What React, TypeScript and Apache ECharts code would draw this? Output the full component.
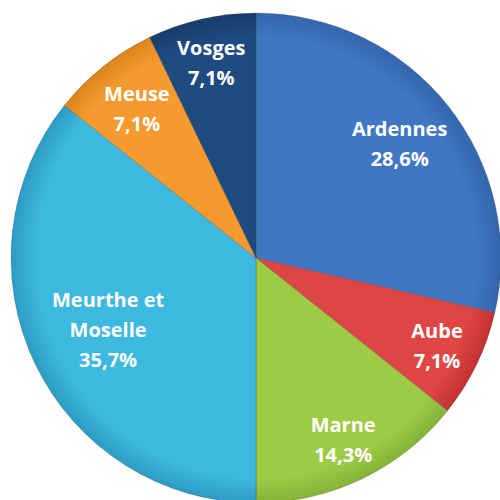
import React, { useEffect, useRef } from "react";
import * as echarts from "echarts";

const categories = ["Ardennes", "Aube", "Marne", "Meurthe et\nMoselle", "Meuse", "Vosges"];
const values = [4, 1, 2, 5, 1, 1];
const percentLabels = ["28,6%", "7,1%", "14,3%", "35,7%", "7,1%", "7,1%"];
const innerColors = ["#3F77C3", "#DF4544", "#9DCB46", "#3DB8DE", "#F49A2E", "#1F4A80"];
const outerColors = ["#3366AD", "#C23331", "#86B236", "#2C9CC4", "#DD841C", "#183C6A"];
const labelRadiusRatio = [0.75, 0.82, 0.82, 0.67, 0.78, 0.82];

export default function App() {
  const ref = useRef<HTMLDivElement>(null);
  useEffect(() => {
    document.body.style.margin = "0";
    const chart = echarts.init(ref.current!, null, { renderer: "svg" });
    const cx = 256;
    const cy = 258;
    const R = 245;
    const total = values.reduce((a, b) => a + b, 0);
    const midAngles: number[] = [];
    let acc = 0;
    values.forEach((v) => {
      const start = 90 - (acc / total) * 360;
      acc += v;
      const end = 90 - (acc / total) * 360;
      midAngles.push(((start + end) / 2) * Math.PI / 180);
    });
    chart.setOption({
      animation: false,
      series: [
        {
          type: "pie",
          center: [cx, cy],
          radius: [0, R],
          startAngle: 90,
          clockwise: true,
          avoidLabelOverlap: false,
          itemStyle: { borderColor: "rgba(50,50,50,0.3)", borderWidth: 0.8 },
          label: {
            show: true,
            position: "inside",
            color: "#ffffff",
            fontFamily: "Open Sans",
            fontWeight: "bold",
            fontSize: 20,
            lineHeight: 30,
            align: "center",
            formatter: (p: any) => `${p.name}\n${percentLabels[p.dataIndex]}`,
          },
          labelLine: { show: false },
          labelLayout: (p: any) => {
            const i = p.dataIndex;
            const r = R * labelRadiusRatio[i];
            return {
              x: cx + r * Math.cos(midAngles[i]),
              y: cy - r * Math.sin(midAngles[i]),
              align: "center",
              verticalAlign: "middle",
            };
          },
          data: categories.map((name, i) => ({
            name,
            value: values[i],
            itemStyle: {
              color: new echarts.graphic.RadialGradient(
                cx,
                cy,
                R,
                [
                  { offset: 0, color: innerColors[i] },
                  { offset: 0.9, color: innerColors[i] },
                  { offset: 1, color: outerColors[i] },
                ],
                true
              ),
            },
          })),
        },
      ],
    });
    return () => chart.dispose();
  }, []);
  return <div ref={ref} style={{ width: 500, height: 500 }} />;
}
